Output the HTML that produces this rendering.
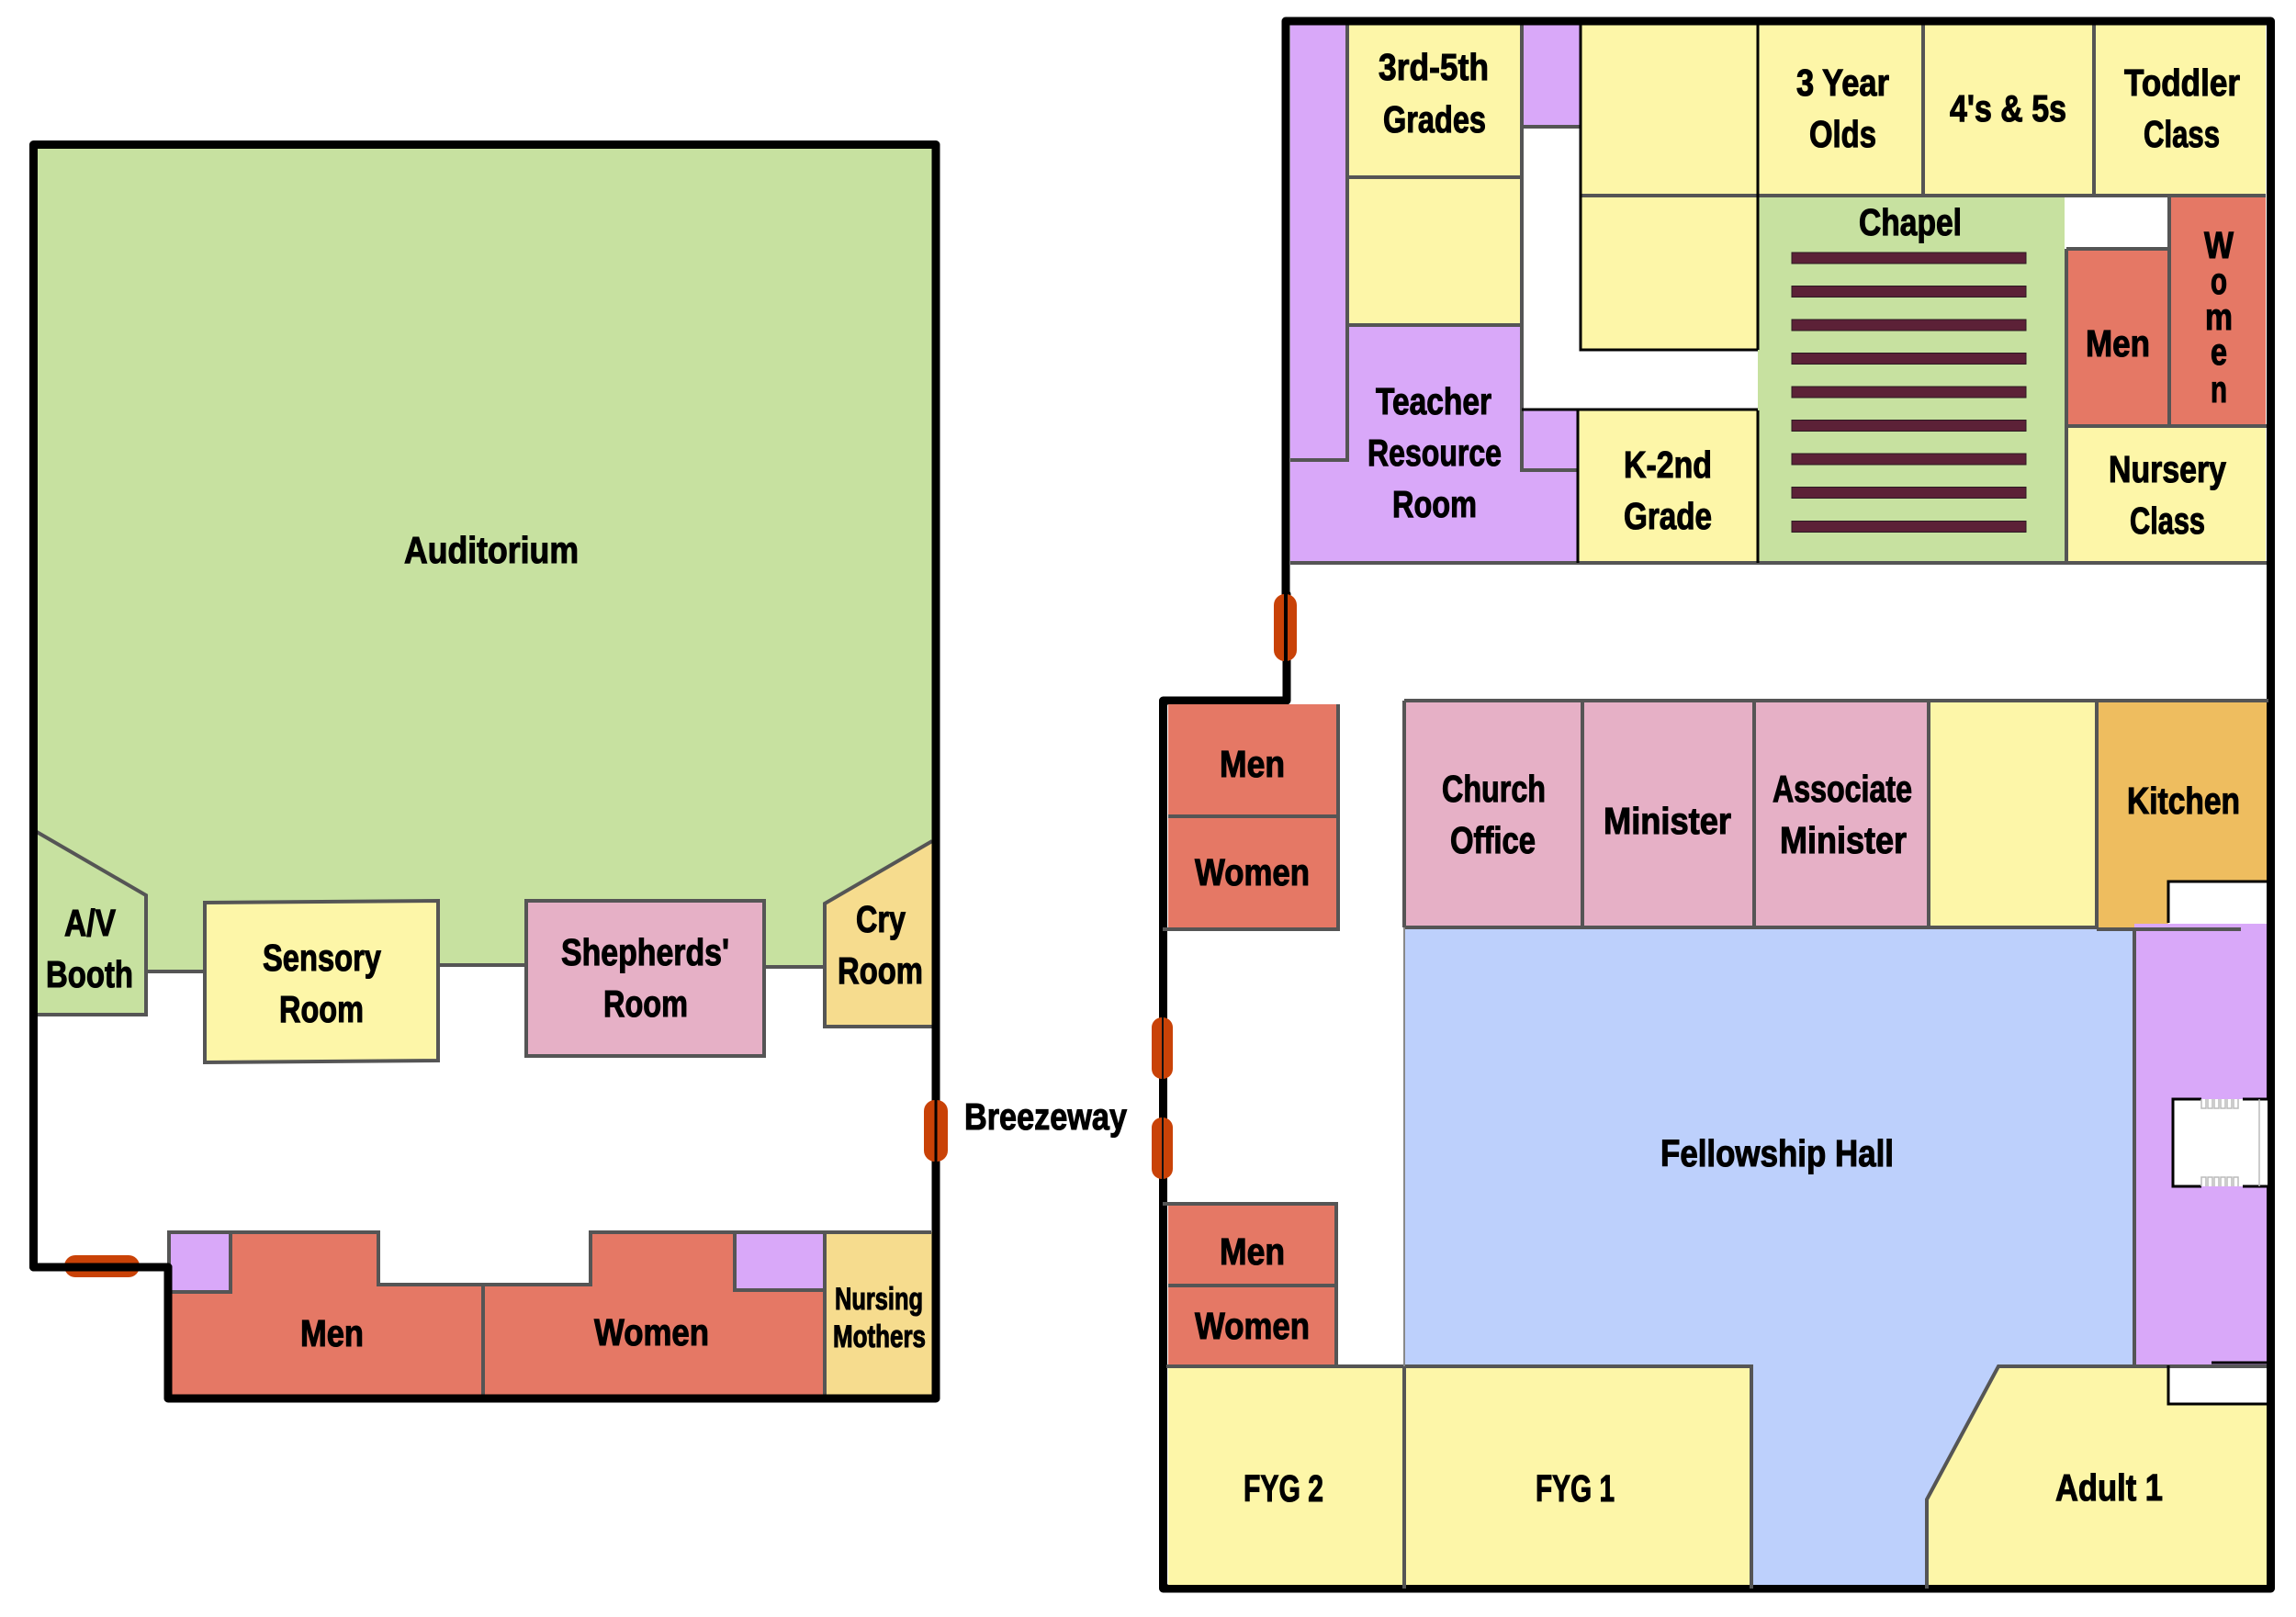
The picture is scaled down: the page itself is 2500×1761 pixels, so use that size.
<!DOCTYPE html>
<html><head><meta charset="utf-8"><style>
html,body{margin:0;padding:0;background:#fff}
svg{display:block}
text{font-family:"Liberation Sans",sans-serif;font-weight:bold;font-size:41px;fill:#000;stroke:#000;stroke-width:1.1px}
.g{stroke:#555;stroke-width:4;fill:none}
.k{stroke:#000;stroke-width:9;fill:none;stroke-linecap:round;stroke-linejoin:round}
.n{stroke:#000;stroke-width:3;fill:none}
.p{fill:#c94207}
.w{fill:#5c2137;stroke:#2c1a22;stroke-width:1}
</style></head><body>
<svg width="2500" height="1761" viewBox="0 0 2500 1761" xmlns="http://www.w3.org/2000/svg">
<rect width="2500" height="1761" fill="#fff"/>

<!-- LEFT BUILDING fills -->
<polygon points="40,158 1017,158 1017,916 898,984 898,1053 832,1053 832,981 573,981 573,1051 477,1051 477,981 223,981 223,1058 159,1058 159,975 40,906" fill="#c7e1a0"/>
<polygon points="40,906 159,975 159,1105 40,1105" fill="#c7e1a0"/>
<polygon points="223,983 477,981 477,1155 223,1157" fill="#fdf6a8"/>
<rect x="573" y="981" width="259" height="169" fill="#e6b0c6"/>
<polygon points="898,984 1015,916 1015,1118 898,1118" fill="#f6dc8e"/>
<polygon points="184,1342 412,1342 412,1399 643,1399 643,1342 898,1342 898,1519 184,1519" fill="#e57865"/>
<rect x="184" y="1344" width="67" height="63" fill="#d9a8f9"/>
<rect x="800" y="1343" width="98" height="62" fill="#d9a8f9"/>
<rect x="898" y="1342" width="117" height="177" fill="#f6dc8e"/>

<!-- LEFT lines -->
<path class="g" d="M40,906 L159,975 V1105 H40"/>
<path class="g" d="M159,1058 H223 M477,1051 H573 M832,1053 H898"/>
<polygon class="g" points="223,983 477,981 477,1155 223,1157"/>
<rect class="g" x="573" y="981" width="259" height="169"/>
<path class="g" d="M1015,916 L898,984 V1118 H1019"/>
<path class="g" d="M184,1380 V1342 H412 V1399 H643 V1342 H1014 M526,1399 V1523 M898,1342 V1519"/>
<path class="g" d="M184,1407 H251 V1344 M800,1343 V1405 H898"/>

<path class="k" d="M36.5,1380 V157.5 H1019 V1523 H183 V1380 Z"/>
<rect class="p" x="70" y="1367" width="82" height="24" rx="12"/>
<path d="M36.5,1380 H183" class="k"/>
<rect class="p" x="1006" y="1198" width="26" height="67" rx="12"/>
<path d="M1019,1198 V1265" stroke="#000" stroke-width="3"/>

<!-- UPPER RIGHT BUILDING -->
<polygon points="1405,27 1467,27 1467,354 1657,354 1657,447 1718,447 1718,613 1405,613" fill="#d9a8f9"/>
<rect x="1657" y="27" width="64" height="111" fill="#d9a8f9"/>
<rect x="1467" y="27" width="190" height="166" fill="#fdf6a8"/>
<rect x="1467" y="193" width="190" height="161" fill="#fdf6a8"/>
<rect x="1721" y="27" width="193" height="186" fill="#fdf6a8"/>
<rect x="1721" y="213" width="193" height="168" fill="#fdf6a8"/>
<rect x="1914" y="27" width="553" height="186" fill="#fdf6a8"/>
<rect x="1718" y="447" width="196" height="166" fill="#fdf6a8"/>
<rect x="1914" y="213" width="334" height="398" fill="#c7e1a0"/>
<rect x="2250" y="464" width="217" height="149" fill="#fdf6a8"/>
<rect x="2250" y="271" width="112" height="193" fill="#e57865"/>
<rect x="2362" y="213" width="105" height="251" fill="#e57865"/>

<g class="w">
<rect x="1951" y="275" width="255" height="12"/>
<rect x="1951" y="311.5" width="255" height="12"/>
<rect x="1951" y="348" width="255" height="12"/>
<rect x="1951" y="384.5" width="255" height="12"/>
<rect x="1951" y="421" width="255" height="12"/>
<rect x="1951" y="457.5" width="255" height="12"/>
<rect x="1951" y="494" width="255" height="12"/>
<rect x="1951" y="530.5" width="255" height="12"/>
<rect x="1951" y="567.5" width="255" height="12"/>
</g>

<path class="g" d="M1467,27 V501 H1405 M1467,193 H1657 M1467,354 H1657 M1657,23 V512 H1718 M1657,138 H1721"/>
<path class="g" d="M1721,213 H2467 M2094,27 V215 M2280,27 V213 M1405,613 H2470 M2250,271 H2362 V464 M2362,213 V271 M2250,271 V613 M2250,464 H2470"/>
<path class="n" d="M1721,23 V381 H1914 M1914,27 V381 M1914,447 V613 M1657,446 H1914 M1718,446 V613"/>

<path class="k" d="M1400,647 V23 H2472.5 V1730 H1266.5 V763 H1401 V647"/>
<rect class="p" x="1387" y="647" width="25" height="73" rx="12"/>
<path d="M1400,647 V720" stroke="#000" stroke-width="4"/>

<!-- LOWER RIGHT BUILDING -->
<rect x="1272" y="767" width="185" height="122" fill="#e57865"/>
<rect x="1272" y="889" width="185" height="122" fill="#e57865"/>
<rect x="1272" y="1311" width="183" height="177" fill="#e57865"/>
<rect x="1272" y="1488" width="635" height="238" fill="#fdf6a8"/>
<rect x="1529" y="765" width="571" height="245" fill="#e6b0c6"/>
<rect x="2100" y="765" width="183" height="245" fill="#fdf6a8"/>
<rect x="2283" y="765" width="185" height="245" fill="#eebd5f"/>
<polygon points="1529,1010 2324,1010 2324,1488 2176,1488 2098,1633 2098,1726 1907,1726 1907,1488 1529,1488" fill="#bdd0fc"/>
<rect x="2324" y="1006" width="144" height="482" fill="#d9a8f9"/>
<polygon points="2176,1488 2468,1488 2468,1726 2098,1726 2098,1633" fill="#fdf6a8"/>

<rect x="2361" y="961" width="107" height="45" fill="#fff"/>
<rect x="2366" y="1197" width="103" height="95" fill="#fff"/>
<rect x="2361" y="1490" width="107" height="39" fill="#fff"/>

<path class="g" d="M1529,763 H2470 M1529,763 V1010 M1723,763 V1010 M1910,763 V1010 M2100,763 V1010 M2283,763 V1010 M1529,1010 H2283"/>
<path class="g" d="M1272,889 H1457 M1457,767 V1012 H1266 M1266,1311 H1455 V1488 M1272,1400 H1457"/>
<path class="g" d="M1270,1488 H1907 V1730 M1529,1488 V1730"/>
<path stroke="#888" stroke-width="2" fill="none" d="M1529,1010 V1488"/>
<path class="g" d="M2098,1730 V1633 L2176,1488 H2468 M2324,1010 V1488 M2283,1012 H2440"/>
<path class="n" d="M2469,960 H2361 V1005 M2469,1197 H2442 M2397,1197 H2366 V1292 H2397 M2442,1292 H2469 M2361,1487 V1529 H2469 M2408,1484 H2469"/>
<g stroke="#bbb" stroke-width="1.5" fill="none">
<path d="M2397,1197 v10 h5 v-10 m2,0 v10 h5 v-10 m2,0 v10 h5 v-10 m2,0 v10 h5 v-10 m2,0 v10 h5 v-10 m2,0 v10 h5 v-10"/>
<path d="M2397,1292 v-10 h5 v10 m2,0 v-10 h5 v10 m2,0 v-10 h5 v10 m2,0 v-10 h5 v10 m2,0 v-10 h5 v10 m2,0 v-10 h5 v10"/>
<path d="M2460,1197 V1292"/>
</g>

<rect class="p" x="1254" y="1108" width="23" height="67" rx="11"/>
<rect class="p" x="1254" y="1217" width="23" height="67" rx="11"/>
<path d="M1266,1108 V1175 M1266,1217 V1284" stroke="#111" stroke-width="2"/>

<!-- TEXT -->
<g>
<text x="440" y="613" textLength="190" lengthAdjust="spacingAndGlyphs">Auditorium</text>
<text x="70" y="1019" textLength="56" lengthAdjust="spacingAndGlyphs">A/V</text>
<text x="50" y="1075" textLength="95" lengthAdjust="spacingAndGlyphs">Booth</text>
<text x="286" y="1057" textLength="129" lengthAdjust="spacingAndGlyphs">Sensory</text>
<text x="304" y="1113" textLength="92" lengthAdjust="spacingAndGlyphs">Room</text>
<text x="611" y="1051" textLength="183" lengthAdjust="spacingAndGlyphs">Shepherds'</text>
<text x="657" y="1107" textLength="92" lengthAdjust="spacingAndGlyphs">Room</text>
<text x="932" y="1015" textLength="54" lengthAdjust="spacingAndGlyphs">Cry</text>
<text x="912" y="1071" textLength="93" lengthAdjust="spacingAndGlyphs">Room</text>
<text x="1050" y="1230" textLength="177" lengthAdjust="spacingAndGlyphs">Breezeway</text>
<text x="327" y="1466" textLength="69" lengthAdjust="spacingAndGlyphs">Men</text>
<text x="647" y="1465" textLength="125" lengthAdjust="spacingAndGlyphs">Women</text>
<text x="909" y="1426" textLength="96" lengthAdjust="spacingAndGlyphs" style="font-size:34px">Nursing</text>
<text x="907" y="1467" textLength="101" lengthAdjust="spacingAndGlyphs" style="font-size:34px">Mothers</text>

<text x="1501" y="87" textLength="120" lengthAdjust="spacingAndGlyphs">3rd-5th</text>
<text x="1506" y="144" textLength="112" lengthAdjust="spacingAndGlyphs">Grades</text>
<text x="1956" y="104" textLength="101" lengthAdjust="spacingAndGlyphs">3 Year</text>
<text x="1970" y="160" textLength="73" lengthAdjust="spacingAndGlyphs">Olds</text>
<text x="2123" y="132" textLength="127" lengthAdjust="spacingAndGlyphs">4's &amp; 5s</text>
<text x="2313" y="104" textLength="126" lengthAdjust="spacingAndGlyphs">Toddler</text>
<text x="2334" y="160" textLength="83" lengthAdjust="spacingAndGlyphs">Class</text>
<text x="2024" y="256" textLength="112" lengthAdjust="spacingAndGlyphs">Chapel</text>
<text x="2416" y="281" text-anchor="middle" textLength="32" lengthAdjust="spacingAndGlyphs">W</text>
<text x="2416" y="320" text-anchor="middle" textLength="18" lengthAdjust="spacingAndGlyphs">o</text>
<text x="2416" y="359" text-anchor="middle" textLength="30" lengthAdjust="spacingAndGlyphs">m</text>
<text x="2416" y="397" text-anchor="middle" textLength="18" lengthAdjust="spacingAndGlyphs">e</text>
<text x="2416" y="438" text-anchor="middle" textLength="18" lengthAdjust="spacingAndGlyphs">n</text>
<text x="2271" y="388" textLength="70" lengthAdjust="spacingAndGlyphs">Men</text>
<text x="1498" y="451" textLength="126" lengthAdjust="spacingAndGlyphs">Teacher</text>
<text x="1489" y="507" textLength="146" lengthAdjust="spacingAndGlyphs">Resource</text>
<text x="1516" y="563" textLength="92" lengthAdjust="spacingAndGlyphs">Room</text>
<text x="1768" y="520" textLength="96" lengthAdjust="spacingAndGlyphs">K-2nd</text>
<text x="1768" y="576" textLength="96" lengthAdjust="spacingAndGlyphs">Grade</text>
<text x="2296" y="525" textLength="128" lengthAdjust="spacingAndGlyphs">Nursery</text>
<text x="2319" y="581" textLength="82" lengthAdjust="spacingAndGlyphs">Class</text>

<text x="1328" y="846" textLength="71" lengthAdjust="spacingAndGlyphs">Men</text>
<text x="1301" y="964" textLength="125" lengthAdjust="spacingAndGlyphs">Women</text>
<text x="1570" y="873" textLength="113" lengthAdjust="spacingAndGlyphs">Church</text>
<text x="1579" y="929" textLength="93" lengthAdjust="spacingAndGlyphs">Office</text>
<text x="1746" y="908" textLength="139" lengthAdjust="spacingAndGlyphs">Minister</text>
<text x="1930" y="873" textLength="152" lengthAdjust="spacingAndGlyphs">Associate</text>
<text x="1938" y="929" textLength="138" lengthAdjust="spacingAndGlyphs">Minister</text>
<text x="2316" y="886" textLength="123" lengthAdjust="spacingAndGlyphs">Kitchen</text>
<text x="1808" y="1270" textLength="254" lengthAdjust="spacingAndGlyphs">Fellowship Hall</text>
<text x="1328" y="1377" textLength="71" lengthAdjust="spacingAndGlyphs">Men</text>
<text x="1301" y="1458" textLength="125" lengthAdjust="spacingAndGlyphs">Women</text>
<text x="1354" y="1635" textLength="87" lengthAdjust="spacingAndGlyphs">FYG 2</text>
<text x="1672" y="1635" textLength="86" lengthAdjust="spacingAndGlyphs">FYG 1</text>
<text x="2238" y="1634" textLength="117" lengthAdjust="spacingAndGlyphs">Adult 1</text>
</g>
</svg>
</body></html>
